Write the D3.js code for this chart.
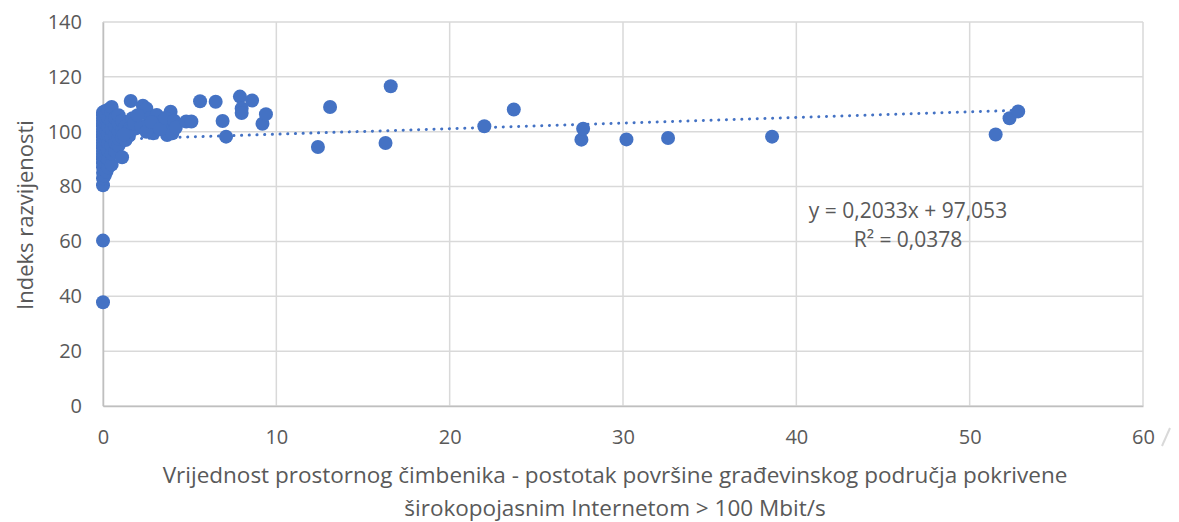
<!DOCTYPE html>
<html>
<head>
<meta charset="utf-8">
<script src="https://cdn.jsdelivr.net/npm/d3@7"></script>
<style>
  html, body { margin: 0; padding: 0; background: #fff; }
  svg { display: block; font-family: "Open Sans", sans-serif; }
</style>
</head>
<body>
<svg id="chart" width="1179" height="522"></svg>
<script>
// x: postotak površine pokriven internetom > 100 Mbit/s, y: indeks razvijenosti
const xValues = [
  0, 0, 0, 0, 0, 0, 0, 0, 0, 0, 0, 0, 0, 0, 0, 0, 0, 0, 0, 0, 0, 0, 0, 0, 0,
  0.1, 0.1, 0.1, 0.1, 0.1, 0.1, 0.1, 0.1, 0.1, 0.1, 0.1, 0.1,
  0.2, 0.2, 0.2, 0.2, 0.2, 0.2, 0.2, 0.2, 0.2, 0.2, 0.2,
  0.3, 0.3, 0.3, 0.3, 0.3, 0.3, 0.3, 0.3,
  0.5, 0.5, 0.5, 0.5, 0.5, 0.5, 0.5, 0.5,
  0.7, 0.7, 0.7, 0.7, 0.7,
  0.9, 0.9, 0.9, 0.9, 0.9,
  1.1, 1.1, 1.1, 1.1,
  1.3, 1.3, 1.3,
  1.5, 1.5,
  1.6, 1.7, 1.9, 2.3, 2.5, 2.7, 2.9, 3.1, 3.0, 3.5, 3.7, 3.9, 3.9, 4.0,
  1.4, 1.8, 2.2, 2.5, 2.8, 3.3, 3.6, 4.1, 4.2, 2.0, 1.2,
  4.8, 5.1, 5.6, 6.5, 6.9, 7.1, 7.9, 8.0, 8.0, 8.6, 9.2, 9.4,
  12.4, 13.1, 16.3, 16.6, 22.0, 23.7, 27.6, 27.7, 30.2, 32.6, 38.6, 51.5, 52.3, 52.8
];
const yValues = [
  37.8, 60.3, 80.5, 83, 85, 87, 88.5, 90, 91, 92, 93, 94, 95, 96, 97, 98, 99, 100, 101, 102, 103, 104, 105, 106, 107,
  84, 86, 89, 91.5, 93.5, 95.5, 97.5, 99.5, 101.5, 103.5, 105.5, 107.5,
  85.5, 88, 90.5, 92.5, 94.5, 96.5, 98.5, 100.5, 102.5, 104.5, 106.5,
  87, 90, 93, 96, 99, 102, 105, 108,
  88, 92, 95, 98, 101, 104, 107, 109,
  93, 96, 99, 102, 105,
  95, 97.5, 100, 103, 106,
  90.7, 98, 101, 104,
  97, 99.5, 102,
  98.5, 101,
  111.2, 104.9, 101.2, 109.5, 108.5, 104.9, 99.4, 106.1, 102, 104, 98.8, 107.3, 102.5, 99.4,
  100, 103, 102, 100, 103.5, 101, 105, 104, 101.5, 106, 99,
  103.7, 103.7, 111.1, 110.9, 103.9, 98.2, 112.8, 108.5, 106.8, 111.4, 102.9, 106.4,
  94.4, 109, 95.9, 116.6, 102, 108.1, 97.1, 101.1, 97.2, 97.7, 98.2, 99, 104.9, 107.4
];
const xTicks = [0, 10, 20, 30, 40, 50, 60];
const yTicks = [0, 20, 40, 60, 80, 100, 120, 140];
const trendSlope = 0.2033;
const trendIntercept = 97.053;
const equationLines = ["y = 0,2033x + 97,053", "R² = 0,0378"];
const xTitleLines = [
  "Vrijednost prostornog čimbenika - postotak površine građevinskog područja pokrivene",
  "širokopojasnim Internetom > 100 Mbit/s"
];
const yTitle = "Indeks razvijenosti";

const points = xValues.map((x, i) => ({ x, y: yValues[i] }));
const margin = { top: 22, right: 36, bottom: 116, left: 103 };
const W = 1179, H = 522;
const width = W - margin.left - margin.right;
const height = H - margin.top - margin.bottom;
const textColor = "#595959";

const svg = d3.select("#chart");
const g = svg.append("g").attr("transform", `translate(${margin.left},${margin.top})`);
const x = d3.scaleLinear().domain([0, 60]).range([0, width]);
const y = d3.scaleLinear().domain([0, 140]).range([height, 0]);

// grid
g.append("g")
  .selectAll("line.h")
  .data(yTicks)
  .join("line")
  .attr("x1", 0).attr("x2", width)
  .attr("y1", (d) => y(d)).attr("y2", (d) => y(d))
  .attr("stroke", "#d9d9d9").attr("stroke-width", 1.5);
g.append("g")
  .selectAll("line.v")
  .data(xTicks)
  .join("line")
  .attr("x1", (d) => x(d)).attr("x2", (d) => x(d))
  .attr("y1", 0).attr("y2", height)
  .attr("stroke", "#d9d9d9").attr("stroke-width", 1.5);

// axes
g.append("g")
  .attr("transform", `translate(0,${height})`)
  .call(d3.axisBottom(x).tickValues(xTicks).tickSize(0).tickPadding(24).tickFormat(d3.format("d")))
  .call((axis) => axis.select(".domain").attr("stroke", "#bfbfbf").attr("stroke-width", 1.5))
  .call((axis) => axis.selectAll("text").attr("fill", textColor).style("font-size", "20px").style("font-family", "Open Sans"));
g.append("g")
  .call(d3.axisLeft(y).tickValues(yTicks).tickSize(0).tickPadding(21).tickFormat(d3.format("d")))
  .call((axis) => axis.select(".domain").attr("stroke", "#bfbfbf").attr("stroke-width", 1.5))
  .call((axis) => axis.selectAll("text").attr("fill", textColor).style("font-size", "20px").style("font-family", "Open Sans"));

// trendline
const xMax = d3.max(xValues);
g.append("path")
  .attr("d", d3.line().x((d) => x(d)).y((d) => y(trendSlope * d + trendIntercept))([0, xMax]))
  .attr("fill", "none")
  .attr("stroke", "#4472c4")
  .attr("stroke-width", 3)
  .attr("stroke-linecap", "round")
  .attr("stroke-dasharray", "0.1 7.6");

// points
g.append("g")
  .selectAll("circle")
  .data(points)
  .join("circle")
  .attr("cx", (d) => x(d.x))
  .attr("cy", (d) => y(d.y))
  .attr("r", 7)
  .attr("fill", "#4472c4");

// equation label
svg.append("text")
  .attr("x", 908).attr("y", 218)
  .attr("text-anchor", "middle")
  .attr("fill", textColor).style("font-size", "21px")
  .text(equationLines[0]);
svg.append("text")
  .attr("x", 908).attr("y", 247)
  .attr("text-anchor", "middle")
  .attr("fill", textColor).style("font-size", "21px")
  .text(equationLines[1]);

// titles
svg.append("g")
  .selectAll("text")
  .data(xTitleLines)
  .join("text")
  .attr("x", 615)
  .attr("y", (d, i) => 483 + i * 33)
  .attr("text-anchor", "middle")
  .attr("fill", textColor).style("font-size", "22.5px")
  .text((d) => d);
svg.append("text")
  .attr("transform", "translate(33,215) rotate(-90)")
  .attr("text-anchor", "middle")
  .attr("fill", textColor).style("font-size", "22px")
  .text(yTitle);

// little corner mark at the right edge
svg.append("path")
  .attr("d", "M1162,446 L1170,428")
  .attr("stroke", "#d9d9d9").attr("stroke-width", 2).attr("fill", "none");
</script>
</body>
</html>
